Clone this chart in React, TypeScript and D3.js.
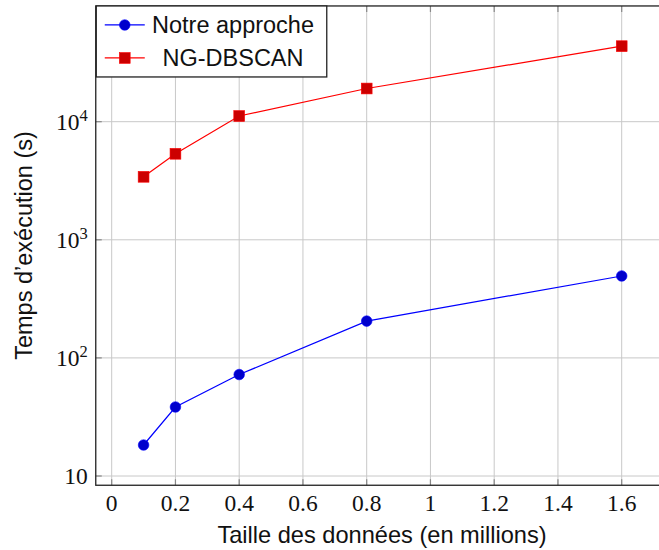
import React from "react";
import * as d3 from "d3";

const sizes = [0.1, 0.2, 0.4, 0.8, 1.6];
const notreApproche = [18.3, 38.4, 72.3, 205, 494];
const ngDbscan = [3415, 5350, 11170, 19100, 43600];
const xTicks = [0, 0.2, 0.4, 0.6, 0.8, 1, 1.2, 1.4, 1.6];
const xTickLabels = ["0", "0.2", "0.4", "0.6", "0.8", "1", "1.2", "1.4", "1.6"];
const yTicks = [10, 100, 1000, 10000];
const yTickExp = ["", "2", "3", "4"];
const seriesNames = ["Notre approche", "NG-DBSCAN"];

const W = 659, H = 550;
const sansFont = "'Liberation Sans', Arial, Helvetica, sans-serif";
const serifFont = "'Liberation Serif', 'Times New Roman', serif";

export default function App() {
  const x = d3.scaleLinear().domain([0, 1.6]).range([111.7, 621.7]);
  const y = d3.scaleLog().domain([10, 10000]).range([476, 121.7]);
  const left = x(-0.05);
  const right = x(1.75);
  const top = y(95500);
  const bottom = y(8.35);
  const line = d3
    .line<number>()
    .x((_, i) => x(sizes[i]))
    .y((d) => y(d));

  const blueLine = "#0000ff";
  const blueFill = "#0000cc";
  const redLine = "#ff0000";
  const redFill = "#cc0000";
  const sq = 10.8;

  return (
    <svg width={W} height={H} style={{ position: "absolute", left: 0, top: 0, background: "#fff" }}>
      <defs>
        <clipPath id="plotclip">
          <rect x={left} y={top} width={right - left} height={bottom - top} />
        </clipPath>
      </defs>
      {/* grid */}
      {xTicks.map((t) => (
        <line key={"gx" + t} x1={x(t)} x2={x(t)} y1={top} y2={bottom} stroke="#c8c8c8" strokeWidth={1} />
      ))}
      {yTicks.map((t) => (
        <line key={"gy" + t} x1={left} x2={right} y1={y(t)} y2={y(t)} stroke="#c8c8c8" strokeWidth={1} />
      ))}
      {/* tick marks */}
      {xTicks.map((t) => (
        <g key={"tx" + t}>
          <line x1={x(t)} x2={x(t)} y1={bottom} y2={bottom - 6} stroke="#888" strokeWidth={1.2} />
          <line x1={x(t)} x2={x(t)} y1={top} y2={top + 6} stroke="#888" strokeWidth={1.2} />
        </g>
      ))}
      {yTicks.map((t) => (
        <line key={"ty" + t} x1={left} x2={left + 6} y1={y(t)} y2={y(t)} stroke="#888" strokeWidth={1.2} />
      ))}
      {/* axes box */}
      <rect x={left} y={top} width={right - left} height={bottom - top} fill="none" stroke="#222" strokeWidth={1.3} />
      {/* series */}
      <g clipPath="url(#plotclip)">
        <path d={line(notreApproche) || ""} fill="none" stroke={blueLine} strokeWidth={1.2} />
        <path d={line(ngDbscan) || ""} fill="none" stroke={redLine} strokeWidth={1.2} />
        {notreApproche.map((v, i) => (
          <circle key={"b" + i} cx={x(sizes[i])} cy={y(v)} r={5.3} fill={blueFill} stroke={blueLine} strokeWidth={0.6} />
        ))}
        {ngDbscan.map((v, i) => (
          <rect key={"r" + i} x={x(sizes[i]) - sq / 2} y={y(v) - sq / 2} width={sq} height={sq} fill={redFill} stroke={redLine} strokeWidth={0.6} />
        ))}
      </g>
      {/* x tick labels */}
      {xTicks.map((t, i) => (
        <text key={"lx" + t} x={x(t)} y={bottom + 26} textAnchor="middle" fontFamily={serifFont} fontSize={23.5} fill="#111">
          {xTickLabels[i]}
        </text>
      ))}
      {/* y tick labels */}
      {yTicks.map((t, i) => (
        <text key={"ly" + t} x={left - 8} y={y(t) + 8} textAnchor="end" fontFamily={serifFont} fontSize={23.5} fill="#111">
          10
          {yTickExp[i] ? (
            <tspan fontSize={16.5} dy={-9}>
              {yTickExp[i]}
            </tspan>
          ) : null}
        </text>
      ))}
      {/* axis labels */}
      <text x={382} y={543} textAnchor="middle" fontFamily={sansFont} fontSize={23.6} fill="#111">
        Taille des données (en millions)
      </text>
      <text
        transform={`translate(32, 245.5) rotate(-90)`}
        textAnchor="middle"
        fontFamily={sansFont}
        fontSize={23.5}
        fill="#111"
      >
        Temps d’exécution (s)
      </text>
      {/* legend */}
      <g>
        <rect x={left + 0.5} y={top} width={230.5} height={71} fill="#fff" stroke="#222" strokeWidth={1.3} />
        {seriesNames.map((name, i) => {
          const cy = top + 19 + i * 33;
          return (
            <g key={name}>
              <line x1={left + 9} x2={left + 49} y1={cy} y2={cy} stroke={i === 0 ? blueLine : redLine} strokeWidth={1.2} />
              {i === 0 ? (
                <circle cx={left + 29} cy={cy} r={5.3} fill={blueFill} stroke={blueLine} strokeWidth={0.6} />
              ) : (
                <rect x={left + 29 - sq / 2} y={cy - sq / 2} width={sq} height={sq} fill={redFill} stroke={redLine} strokeWidth={0.6} />
              )}
              <text x={233} y={cy + 8.5} textAnchor="middle" fontFamily={sansFont} fontSize={23.5} fill="#111">
                {name}
              </text>
            </g>
          );
        })}
      </g>
    </svg>
  );
}
